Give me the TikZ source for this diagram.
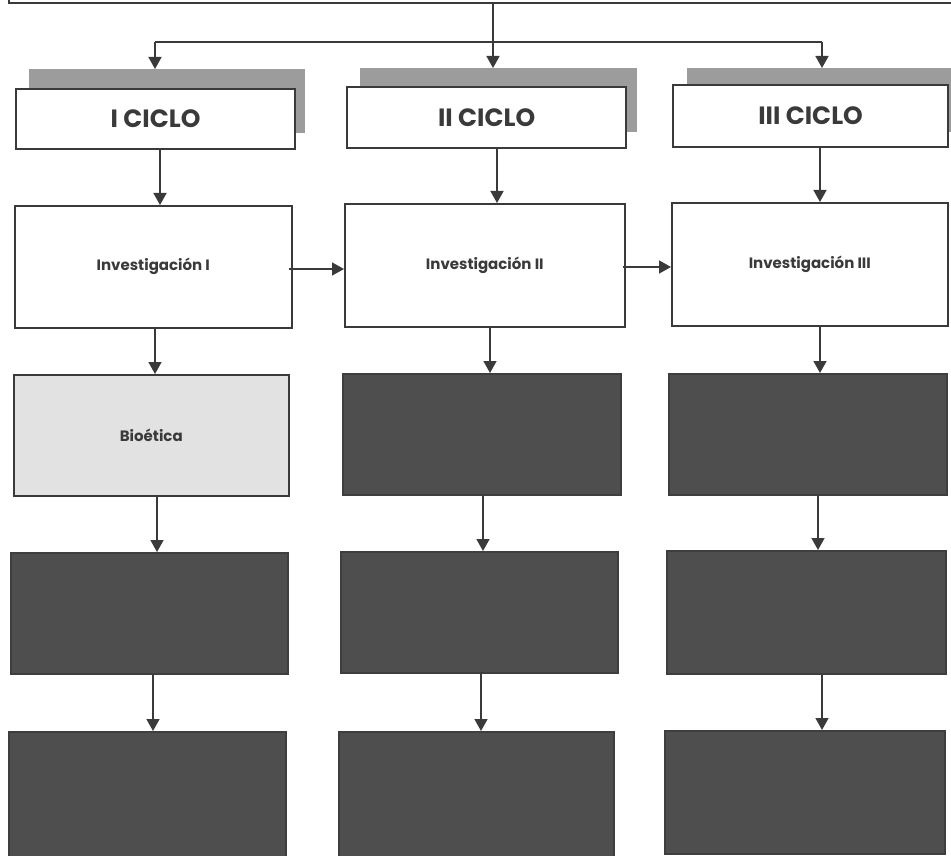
\documentclass[tikz,border=0pt]{standalone}
\usepackage{fontspec}
\setmainfont{Poppins}
\usetikzlibrary{arrows.meta}
\definecolor{ln}{HTML}{3A3A3A}
\definecolor{dk}{HTML}{4E4E4E}
\definecolor{lt}{HTML}{E2E2E2}
\definecolor{sh}{HTML}{9C9C9C}
\tikzset{
  pbox/.style={draw=ln, line width=1.6pt, rectangle, inner sep=0pt, anchor=north west},
  head/.style={pbox, fill=white, line width=2.2pt, font=\fontsize{25}{27}\selectfont\bfseries, text=ln},
  shad/.style={rectangle, fill=sh, draw=none, inner sep=0pt, anchor=north west},
  inv/.style={pbox, fill=white, font=\fontsize{15}{17}\selectfont\bfseries, text=ln},
  dark/.style={pbox, fill=dk, draw=dk!80!black},
  light/.style={pbox, fill=lt, font=\fontsize{15}{17}\selectfont\bfseries, text=ln},
  arr/.style={draw=ln, line width=1.6pt, -{Triangle[width=13pt,length=12pt]}},
  ln/.style={draw=ln, line width=1.6pt}
}
\begin{document}
\begin{tikzpicture}[x=1pt,y=-1pt]
\useasboundingbox (0,0) rectangle (951,856);
\clip (0,0) rectangle (951,856);
% top box (mostly out of view)
\node[pbox, fill=white, anchor=south west, minimum width=960pt, minimum height=40pt] (top) at (8,4) {};
% shadows
\node[shad, minimum width=276pt, minimum height=64pt] (s1) at (29,69) {};
\node[shad, minimum width=277pt, minimum height=64pt] (s2) at (360,68) {};
\node[shad, minimum width=280pt, minimum height=64pt] (s3) at (687,68) {};
% header boxes
\node[head, minimum width=279pt, minimum height=60pt] (h1) at (15,88) {I CICLO};
\node[head, minimum width=279pt, minimum height=61pt] (h2) at (346,86) {II CICLO};
\node[head, minimum width=275pt, minimum height=62pt] (h3) at (672,84) {III CICLO};
% row 1
\node[inv, minimum width=277pt, minimum height=122pt] (i1) at (14,205) {Investigación I};
\node[inv, minimum width=280pt, minimum height=123pt] (i2) at (344,203) {Investigación II};
\node[inv, minimum width=276pt, minimum height=123pt] (i3) at (671,202) {Investigación III};
% row 2
\node[light, minimum width=275pt, minimum height=121pt] (b1) at (13,374) {Bioética};
\node[dark, minimum width=278pt, minimum height=121pt] (b2) at (342,373) {};
\node[dark, minimum width=278pt, minimum height=121pt] (b3) at (668,373) {};
% row 3
\node[dark, minimum width=277pt, minimum height=121pt] (c1) at (10,552) {};
\node[dark, minimum width=277pt, minimum height=121pt] (c2) at (340,551) {};
\node[dark, minimum width=279pt, minimum height=123pt] (c3) at (666,550) {};
% row 4
\node[dark, minimum width=277pt, minimum height=130pt] (d1) at (8,731) {};
\node[dark, minimum width=275pt, minimum height=130pt] (d2) at (338,731) {};
\node[dark, minimum width=280pt, minimum height=123pt] (d3) at (664,730) {};
% distribution from top
\coordinate (j) at (493,42);
\coordinate (jl) at (155,42);
\coordinate (jr) at (822,42);
\draw[ln] (top.south -| j) -- (j);
\draw[ln] (jl) -- (jr);
\draw[arr] (jl) -- (s1.north -| jl);
\draw[arr] (j) -- (s2.north -| j);
\draw[arr] (jr) -- (s3.north -| jr);
% header to investigation
\draw[arr] (h1.south -| 160,0) -- (i1.north -| 160,0);
\draw[arr] (h2.south -| 497,0) -- (i2.north -| 497,0);
\draw[arr] (h3.south -| 820,0) -- (i3.north -| 820,0);
% horizontal
\draw[arr] ([xshift=-4pt]i1.east |- 0,269) -- (i2.west |- 0,269);
\draw[arr] ([xshift=-3pt]i2.east |- 0,267) -- (i3.west |- 0,267);
% columns
\draw[arr] (i1.south -| 155,0) -- (b1.north -| 155,0);
\draw[arr] (i2.south -| 490,0) -- (b2.north -| 490,0);
\draw[arr] (i3.south -| 820,0) -- (b3.north -| 820,0);
\draw[arr] (b1.south -| 157,0) -- (c1.north -| 157,0);
\draw[arr] (b2.south -| 483,0) -- (c2.north -| 483,0);
\draw[arr] (b3.south -| 818,0) -- (c3.north -| 818,0);
\draw[arr] (c1.south -| 153,0) -- (d1.north -| 153,0);
\draw[arr] (c2.south -| 481,0) -- (d2.north -| 481,0);
\draw[arr] (c3.south -| 822,0) -- (d3.north -| 822,0);
\end{tikzpicture}
\end{document}
